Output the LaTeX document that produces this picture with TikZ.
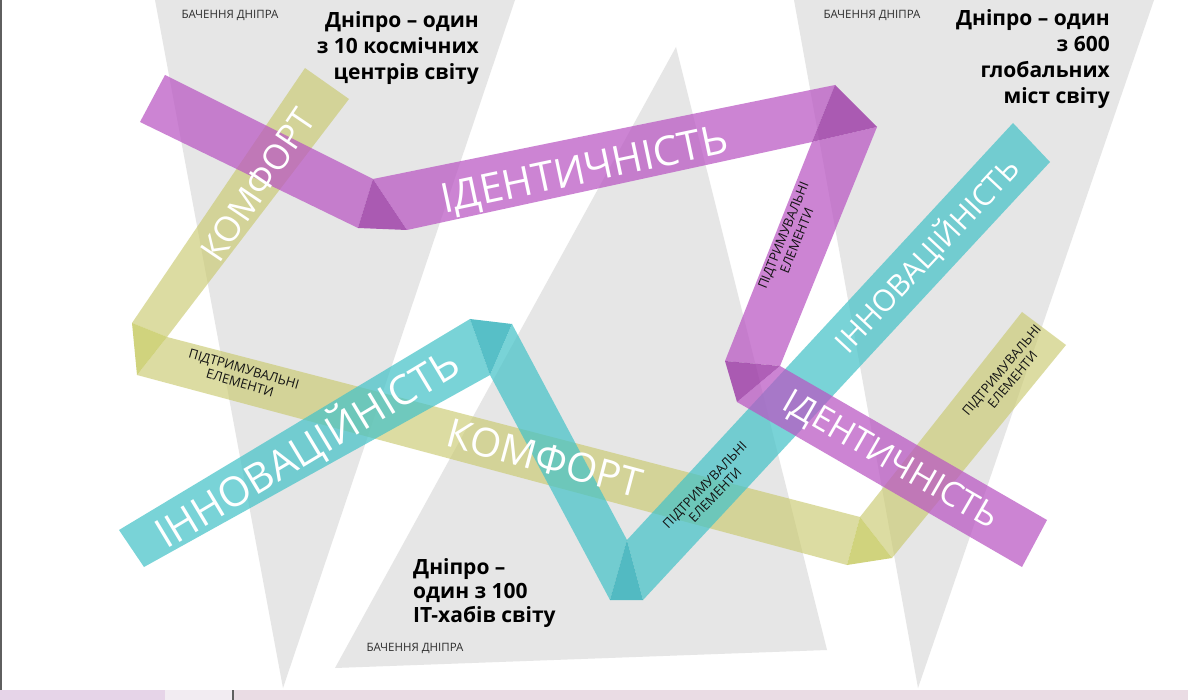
\documentclass[tikz,border=0pt]{standalone}
\usepackage{fontspec}
\setmainfont{Open Sans}
\definecolor{gr}{RGB}{230,230,230}
\definecolor{purp}{RGB}{185,85,195}
\definecolor{purpd}{RGB}{155,55,165}
\definecolor{cyn}{RGB}{70,195,200}
\definecolor{cynd}{RGB}{45,175,185}
\definecolor{olv}{RGB}{200,200,105}
\definecolor{olvd}{RGB}{190,195,75}
\definecolor{txtd}{RGB}{20,20,20}
\definecolor{txtg}{RGB}{45,45,45}
\definecolor{edgeg}{RGB}{95,95,95}
\definecolor{stripa}{RGB}{230,212,232}
\definecolor{stripb}{RGB}{242,236,242}
\definecolor{stripc}{RGB}{234,220,228}
\tikzset{
  ribp/.style={fill=purp, fill opacity=0.72},
  ribpd/.style={fill=purpd, fill opacity=0.8},
  ribc/.style={fill=cyn, fill opacity=0.72},
  ribcd/.style={fill=cynd, fill opacity=0.8},
  ribo/.style={fill=olv, fill opacity=0.62},
  ribod/.style={fill=olvd, fill opacity=0.72},
  bigw/.style={text=white, inner sep=0pt},
  smallt/.style={text=txtd, inner sep=0pt, align=center, font=\fontsize{13}{14.5}\selectfont},
  bach/.style={text=txtg, inner sep=0pt, font=\fontsize{11.5}{13}\selectfont},
  boldt/.style={text=black, inner sep=0pt, font=\bfseries\fontsize{21}{26}\selectfont}
}
\begin{document}
\begin{tikzpicture}[x=1pt,y=-1pt]
\useasboundingbox (0,0) rectangle (1188,700);
\fill[white] (0,0) rectangle (1188,700);
% gray wedges
\fill[gr] (155,0) -- (515,0) -- (283,688) -- cycle;
\fill[gr] (676,47) -- (827,650) -- (335,668) -- cycle;
\fill[gr] (794,0) -- (1154,0) -- (918,688) -- cycle;
% left border and bottom strip
\fill[edgeg] (0,0) rectangle (2,690);
\fill[stripa] (0,690) rectangle (165,700);
\fill[stripb] (165,690) rectangle (232,700);
\fill[edgeg] (232,690) rectangle (234,700);
\fill[stripc] (234,690) rectangle (1188,700);
% olive ribbon
\fill[ribo] (305,68) -- (349,99) -- (167,337) -- (132,323) -- cycle;
\fill[ribod] (132,323) -- (167,337) -- (137,375) -- cycle;
\fill[ribo] (167,337) -- (860,517) -- (847,565) -- (137,375) -- cycle;
\fill[ribod] (860,517) -- (892,558) -- (847,565) -- cycle;
\fill[ribo] (860,517) -- (1022,312) -- (1066,345) -- (892,558) -- cycle;
% cyan ribbon
\fill[ribc] (119,530) -- (470,319) -- (490,375) -- (144,567) -- cycle;
\fill[ribcd] (470,319) -- (512,324) -- (490,375) -- cycle;
\fill[ribc] (490,375) -- (512,324) -- (627,540) -- (610,600) -- cycle;
\fill[ribcd] (610,600) -- (627,540) -- (643,600) -- cycle;
\fill[ribc] (627,540) -- (1013,123) -- (1050,162) -- (643,600) -- cycle;
% purple ribbon
\fill[ribp] (165,75) -- (373,179) -- (358,228) -- (140,122) -- cycle;
\fill[ribpd] (373,179) -- (407,230) -- (358,228) -- cycle;
\fill[ribp] (373,179) -- (835,85) -- (812,142) -- (407,230) -- cycle;
\fill[ribpd] (835,85) -- (877,127) -- (812,142) -- cycle;
\fill[ribp] (812,142) -- (877,127) -- (780,366) -- (725,361) -- cycle;
\fill[ribpd] (725,361) -- (780,366) -- (737,402) -- cycle;
\fill[ribp] (780,366) -- (1047,520) -- (1022,567) -- (737,402) -- cycle;
% ribbon labels
\node[bigw, rotate=56, font=\fontsize{35}{35}\selectfont] (komf1) at (258,185) {КОМФОРТ};
\node[bigw, rotate=12, font=\fontsize{41}{41}\selectfont] (ident1) at (585,172) {ІДЕНТИЧНІСТЬ};
\node[smallt, rotate=68] (pid1) at (790,238) {ПІДТРИМУВАЛЬНІ\\ЕЛЕМЕНТИ};
\node[bigw, rotate=47, font=\fontsize{30}{30}\selectfont] (innov1) at (927,255) {ІННОВАЦІЙНІСТЬ};
\node[smallt, rotate=-16] (pid2) at (242,376) {ПІДТРИМУВАЛЬНІ\\ЕЛЕМЕНТИ};
\node[bigw, rotate=31, font=\fontsize{41}{41}\selectfont] (innov2) at (307,448) {ІННОВАЦІЙНІСТЬ};
\node[bigw, rotate=-15, font=\fontsize{40}{40}\selectfont] (komf2) at (545,458) {КОМФОРТ};
\node[smallt, rotate=46] (pid3) at (710,490) {ПІДТРИМУВАЛЬНІ\\ЕЛЕМЕНТИ};
\node[bigw, rotate=-30, font=\fontsize{34}{34}\selectfont] (ident2) at (890,461) {ІДЕНТИЧНІСТЬ};
\node[smallt, rotate=50] (pid4) at (1007,375) {ПІДТРИМУВАЛЬНІ\\ЕЛЕМЕНТИ};
% headings
\node[bach] (b1) at (230,15) {БАЧЕННЯ ДНІПРА};
\node[bach] (b2) at (872,15) {БАЧЕННЯ ДНІПРА};
\node[bach] (b3) at (415,648) {БАЧЕННЯ ДНІПРА};
\node[boldt, align=right, anchor=north east] (t1) at (479,11) {Дніпро – один\\з 10 космічних\\центрів світу};
\node[boldt, align=right, anchor=north east] (t2) at (1110,9) {Дніпро – один\\з 600\\глобальних\\міст світу};
\node[boldt, align=left, anchor=north west, font=\bfseries\fontsize{21}{24}\selectfont] (t3) at (413,558) {Дніпро –\\один з 100\\IT-хабів світу};
\end{tikzpicture}
\end{document}
